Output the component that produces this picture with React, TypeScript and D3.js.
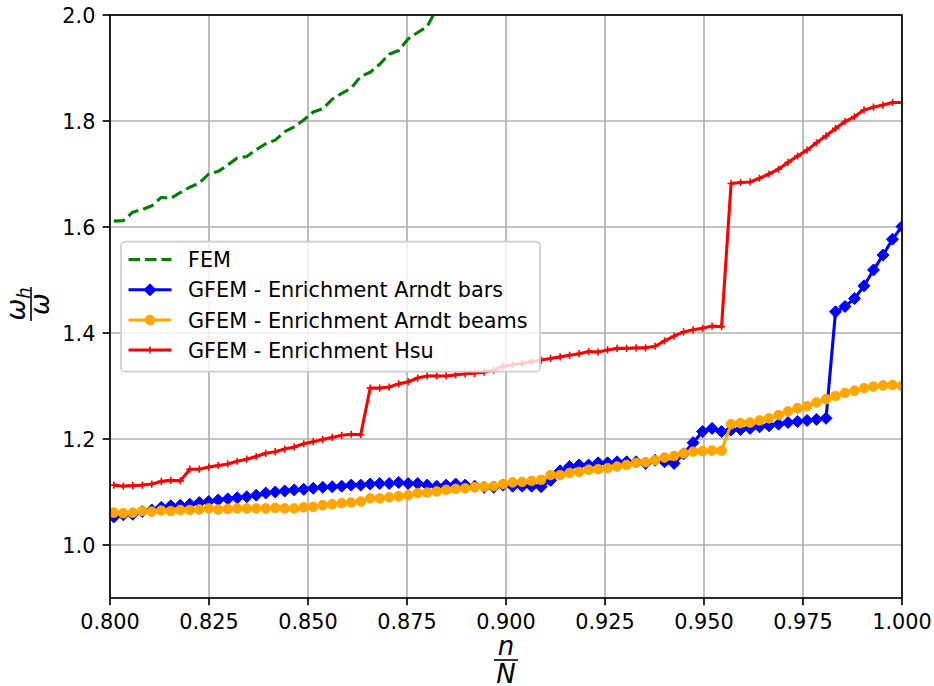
import React from "react";
import * as d3 from "d3";

// Mode indices: n runs from N_FIRST to N_TOTAL, plotted as n / N.
const N_TOTAL = 417;
const N_FIRST = 334;

const femValues = [
  1.611, 1.612, 1.628, 1.633, 1.64, 1.656, 1.654, 1.665, 1.675, 1.683, 1.7, 1.705,
  1.717, 1.73, 1.733, 1.746, 1.757, 1.764, 1.78, 1.789, 1.802, 1.817, 1.823, 1.841,
  1.852, 1.862, 1.884, 1.892, 1.907, 1.926, 1.933, 1.955, 1.967, 1.978, 2.012,
];

const arndtBars = [
  1.053, 1.057, 1.058, 1.063, 1.066, 1.071, 1.074, 1.075, 1.077, 1.08, 1.082, 1.085,
  1.087, 1.089, 1.091, 1.094, 1.098, 1.1, 1.102, 1.104, 1.105, 1.107, 1.109, 1.11,
  1.111, 1.113, 1.113, 1.115, 1.116, 1.116, 1.118,
  1.116, 1.116, 1.113, 1.111, 1.113, 1.115, 1.113, 1.111, 1.109, 1.109, 1.113, 1.111,
  1.111, 1.111, 1.11, 1.122, 1.14, 1.148, 1.151, 1.151, 1.155, 1.155, 1.157, 1.157, 1.157,
  1.154, 1.16, 1.157, 1.154, 1.172, 1.193, 1.214, 1.22, 1.214, 1.217, 1.218, 1.22,
  1.223, 1.225, 1.228, 1.231, 1.233, 1.235, 1.237, 1.239, 1.44, 1.45, 1.465, 1.489,
  1.519, 1.547, 1.577, 1.601,
];

const arndtBeams = [
  1.061, 1.06, 1.061, 1.064, 1.063, 1.065, 1.064, 1.066, 1.066, 1.067, 1.069, 1.067,
  1.068, 1.069, 1.069, 1.069, 1.069, 1.07, 1.069, 1.069, 1.071, 1.072, 1.075, 1.077,
  1.079, 1.08, 1.082, 1.088, 1.088, 1.09, 1.092,
  1.094, 1.098, 1.099, 1.101, 1.104, 1.106, 1.107, 1.109, 1.11, 1.111, 1.115, 1.118,
  1.119, 1.121, 1.123, 1.132, 1.132, 1.136, 1.138, 1.142, 1.143, 1.145, 1.148, 1.151, 1.155,
  1.156, 1.16, 1.165, 1.168, 1.173, 1.176, 1.177, 1.178, 1.178, 1.228, 1.23, 1.231,
  1.235, 1.239, 1.245, 1.252, 1.258, 1.262, 1.269, 1.275, 1.281, 1.287, 1.291, 1.296,
  1.299, 1.301, 1.302, 1.3,
];

const hsu = [
  1.113, 1.111, 1.112, 1.113, 1.115, 1.12, 1.122, 1.121, 1.143, 1.143, 1.147, 1.15,
  1.153, 1.158, 1.162, 1.167, 1.173, 1.176, 1.181, 1.185, 1.191, 1.195, 1.199, 1.203,
  1.207, 1.209, 1.208,
  1.296, 1.296, 1.298, 1.304, 1.308, 1.315, 1.319, 1.319, 1.319, 1.321, 1.323, 1.324,
  1.326, 1.33, 1.337, 1.34, 1.343, 1.346,
  1.349, 1.352, 1.355, 1.358, 1.361, 1.365, 1.364, 1.368, 1.371, 1.371, 1.372, 1.372,
  1.375, 1.385, 1.394, 1.402, 1.406, 1.409, 1.413, 1.412,
  1.682, 1.684, 1.685, 1.692, 1.7, 1.709, 1.722, 1.734, 1.745, 1.759, 1.772, 1.786,
  1.799, 1.808, 1.821, 1.826, 1.83, 1.835, 1.835,
];

const xTicks = [0.8, 0.825, 0.85, 0.875, 0.9, 0.925, 0.95, 0.975, 1.0];
const yTicks = [1.0, 1.2, 1.4, 1.6, 1.8, 2.0];

const legendLabels = [
  "FEM",
  "GFEM - Enrichment Arndt bars",
  "GFEM - Enrichment Arndt beams",
  "GFEM - Enrichment Hsu",
];

const W = 934;
const H = 686;
const M = { left: 110, right: 902, top: 15, bottom: 598 };
const FONT = "DejaVu Sans, sans-serif";
const FS = 20.8;

const ratio = (i: number) => (N_FIRST + i) / N_TOTAL;

export default function App() {
  const x = d3.scaleLinear().domain([0.8, 1.0]).range([M.left, M.right]);
  const y = d3.scaleLinear().domain([0.9, 2.0]).range([M.bottom, M.top]);

  const line = d3
    .line<number>()
    .x((_, i) => x(ratio(i)))
    .y((v) => y(v));

  const diamond = (cx: number, cy: number, r: number) =>
    `M${cx},${cy - r}L${cx + r},${cy}L${cx},${cy + r}L${cx - r},${cy}Z`;

  const plus = (cx: number, cy: number, r: number) =>
    `M${cx - r},${cy}H${cx + r}M${cx},${cy - r}V${cy + r}`;

  const series = [
    { data: femValues, color: "#008000", dash: "11.5 5", marker: "none" },
    { data: arndtBars, color: "#0000ff", dash: null, marker: "diamond" },
    { data: arndtBeams, color: "#ffa500", dash: null, marker: "circle" },
    { data: hsu, color: "#ff0000", dash: null, marker: "plus" },
  ];

  const renderMarker = (kind: string, color: string, cx: number, cy: number, key: any) => {
    if (kind === "diamond")
      return <path key={key} d={diamond(cx, cy, 6)} fill={color} stroke={color} strokeWidth={1} />;
    if (kind === "circle")
      return <circle key={key} cx={cx} cy={cy} r={4.9} fill={color} stroke={color} strokeWidth={0.8} />;
    if (kind === "plus")
      return <path key={key} d={plus(cx, cy, 3.6)} stroke={color} strokeWidth={1.6} fill="none" />;
    return null;
  };

  const legendX = 121;
  const legendY = 241.7;
  const legendRowY = [259.5, 289.8, 320, 350];

  return (
    <div style={{ position: "fixed", left: 0, top: 0 }}>
      <svg width={W} height={H} viewBox={`0 0 ${W} ${H}`} style={{ display: "block", background: "#fff" }}>
        <defs>
          <clipPath id="plot-area">
            <rect x={M.left} y={M.top} width={M.right - M.left} height={M.bottom - M.top} />
          </clipPath>
        </defs>

        {/* grid */}
        <g stroke="#b0b0b0" strokeWidth={1.67}>
          {xTicks.map((t) => (
            <line key={`gx${t}`} x1={x(t)} x2={x(t)} y1={M.top} y2={M.bottom} />
          ))}
          {yTicks.map((t) => (
            <line key={`gy${t}`} x1={M.left} x2={M.right} y1={y(t)} y2={y(t)} />
          ))}
        </g>

        {/* series */}
        <g clipPath="url(#plot-area)">
          {series.map((s, si) => (
            <g key={si}>
              <path
                d={line(s.data) || ""}
                fill="none"
                stroke={s.color}
                strokeWidth={3.1}
                strokeDasharray={s.dash || undefined}
                strokeLinejoin="round"
              />
              {s.data.map((v, i) => renderMarker(s.marker, s.color, x(ratio(i)), y(v), i))}
            </g>
          ))}
        </g>

        {/* spines */}
        <rect
          x={M.left}
          y={M.top}
          width={M.right - M.left}
          height={M.bottom - M.top}
          fill="none"
          stroke="#000"
          strokeWidth={1.67}
        />

        {/* x axis ticks */}
        <g fontFamily={FONT} fontSize={FS} fill="#000">
          {xTicks.map((t) => (
            <g key={`tx${t}`}>
              <line x1={x(t)} x2={x(t)} y1={M.bottom} y2={M.bottom + 7.3} stroke="#000" strokeWidth={1.67} />
              <text x={x(t)} y={629.3} textAnchor="middle">
                {t.toFixed(3)}
              </text>
            </g>
          ))}
          {yTicks.map((t) => (
            <g key={`ty${t}`}>
              <line x1={M.left - 7.3} x2={M.left} y1={y(t)} y2={y(t)} stroke="#000" strokeWidth={1.67} />
              <text x={95.4} y={y(t) + 7.6} textAnchor="end">
                {t.toFixed(1)}
              </text>
            </g>
          ))}
        </g>

        {/* x label: n / N */}
        <g fontFamily={FONT} fontStyle="italic" fontSize={26} textAnchor="middle">
          <text x={506} y={655}>n</text>
          <line x1={494} x2={518} y1={660} y2={660} stroke="#000" strokeWidth={1.6} />
          <text x={506} y={683}>N</text>
        </g>

        {/* y label: omega_h / omega */}
        <g transform="translate(31,304) rotate(-90)" fontFamily={FONT} fontSize={26} textAnchor="middle">
          <text x={0} y={-6} fontStyle="italic">
            ω<tspan fontSize={18} dy={5}>h</tspan>
          </text>
          <line x1={-17} x2={17} y1={0} y2={0} stroke="#000" strokeWidth={1.6} />
          <text x={0} y={18} fontStyle="italic">ω</text>
        </g>

        {/* legend */}
        <g>
          <rect
            x={legendX}
            y={legendY}
            width={540 - legendX}
            height={371.7 - legendY}
            rx={4}
            fill="#fff"
            fillOpacity={0.8}
            stroke="#cccccc"
            strokeWidth={1.67}
          />
          {legendLabels.map((lab, i) => {
            const s = series[i];
            const ly = legendRowY[i];
            return (
              <g key={lab}>
                <line
                  x1={128.5}
                  x2={171.5}
                  y1={ly}
                  y2={ly}
                  stroke={s.color}
                  strokeWidth={3.1}
                  strokeDasharray={s.dash || undefined}
                />
                {renderMarker(s.marker, s.color, 150, ly, "m")}
                <text x={188} y={ly + 7.6} fontFamily={FONT} fontSize={FS} fill="#000">
                  {lab}
                </text>
              </g>
            );
          })}
        </g>
      </svg>
    </div>
  );
}
